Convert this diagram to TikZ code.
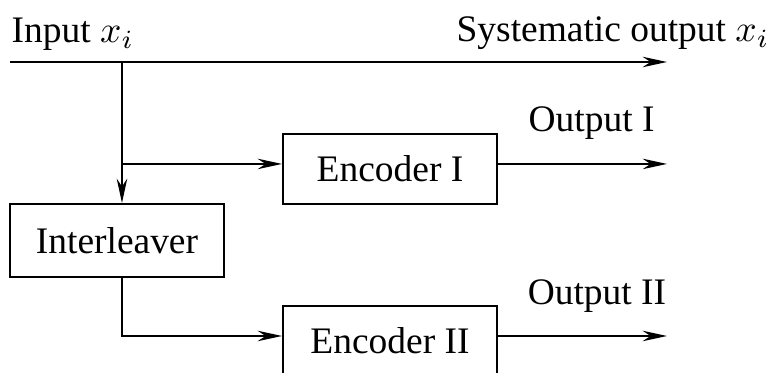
\documentclass[tikz,border=0pt]{standalone}
\usepackage{fontspec}
\setmainfont{Liberation Serif}
\usepackage{amsmath}
\usetikzlibrary{arrows.meta}
\usetikzlibrary{calc}

\tikzset{
	blockbox/.style={draw, line width=0.5pt, minimum width=2.01cm, inner sep=0pt},
	sig/.style={line width=0.5pt, -{Stealth[length=6.5pt,width=2.8pt]}}
}

\begin{document}
\begin{tikzpicture}
		\useasboundingbox (0,0) rectangle (7.35,3.501);

		\coordinate(In) at (0.094, 2.919);
		\coordinate(Sys) at (6.261, 2.919);
		\coordinate(Br) at (1.145, 2.919);
		\coordinate(OutA) at (6.261, 1.962);
		\coordinate(OutB) at (6.261, 0.347);

		\node[blockbox, minimum height=0.657cm] (enc1) at (3.661, 1.915) {Encoder I};
		\node[blockbox, minimum height=0.685cm] (ilv) at (1.098, 1.244) {Interleaver};
		\node[blockbox, minimum height=0.657cm] (enc2) at (3.661, 0.300) {Encoder II};

		% systematic branch
		\draw[sig] (In)--(Sys);
		\draw[sig] (Br)--(Br |- ilv.north);
		\draw[sig] (Br |- OutA)--(enc1.west |- OutA);

		% interleaved branch
		\draw[sig] (Br |- ilv.south)--(Br |- OutB)--(enc2.west |- OutB);

		% outputs
		\draw[sig] (enc1.east |- OutA)--(OutA);
		\draw[sig] (enc2.east |- OutB)--(OutB);

		\node[anchor=base west, inner sep=0pt] (inlab) at (0.103, 3.098) {Input $x_i$};
		\node[anchor=base east, inner sep=0pt] (syslab) at (7.228, 3.107) {Systematic output $x_i$};
		\node[anchor=base west, inner sep=0pt] (outlabA) at (4.956, 2.262) {Output I};
		\node[anchor=base west, inner sep=0pt] (outlabB) at (4.947, 0.638) {Output II};

	\end{tikzpicture}
\end{document}
